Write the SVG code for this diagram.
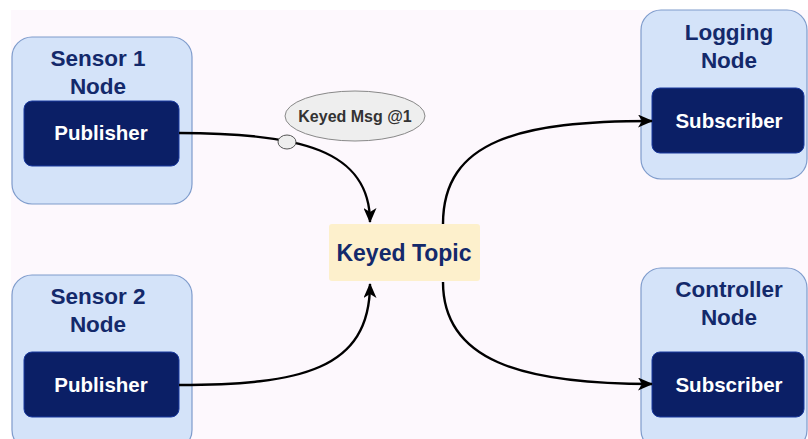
<svg xmlns="http://www.w3.org/2000/svg" width="808" height="439" viewBox="0 0 808 439">
  <defs>
    <marker id="arrow" viewBox="0 0 15 13" refX="14" refY="6.5" markerWidth="15" markerHeight="13" markerUnits="userSpaceOnUse" orient="auto">
      <path d="M0,0 L15,6.5 L0,13 L4,6.5 Z" fill="#000"/>
    </marker>
    <style>
      .outer { fill: #d4e3f9; stroke: #7f9ccc; stroke-width: 1.2; }
      .inner { fill: #0b1f66; stroke: #1a3aa0; stroke-width: 1; }
      .title { font-family: "Liberation Sans", Arial, sans-serif; font-weight: bold; font-size: 22.5px; fill: #13296b; text-anchor: middle; }
      .role { font-family: "Liberation Sans", Arial, sans-serif; font-weight: bold; font-size: 20.5px; fill: #ffffff; text-anchor: middle; }
      .edge { fill: none; stroke: #000; stroke-width: 2.4; marker-end: url(#arrow); }
    </style>
  </defs>

  <rect x="0" y="0" width="808" height="439" fill="#ffffff"/>
  <rect x="11" y="10" width="797" height="429" fill="#fdf8fd"/>

  <g id="msg-label">
    <ellipse cx="355" cy="116" rx="70" ry="25" fill="#eeeeee" stroke="#888" stroke-width="1"/>
    <text x="355" y="122" font-family="Liberation Sans, Arial, sans-serif" font-weight="bold" font-size="16" fill="#333" text-anchor="middle">Keyed Msg @1</text>
  </g>

  <g id="sensor1">
    <rect class="outer" x="12" y="37" width="180" height="167" rx="20"/>
    <text class="title" x="98" y="66">Sensor 1</text>
    <text class="title" x="98" y="94">Node</text>
    <rect class="inner" x="24" y="101" width="155" height="65" rx="8"/>
    <text class="role" x="101" y="140">Publisher</text>
  </g>

  <g id="sensor2">
    <rect class="outer" x="12" y="275" width="180" height="175" rx="20"/>
    <text class="title" x="98" y="304">Sensor 2</text>
    <text class="title" x="98" y="332">Node</text>
    <rect class="inner" x="24" y="352" width="155" height="65" rx="8"/>
    <text class="role" x="101" y="392">Publisher</text>
  </g>

  <g id="topic">
    <rect x="329" y="224" width="151" height="57" rx="3" fill="#fdf0cc"/>
    <text x="404" y="261" font-family="Liberation Sans, Arial, sans-serif" font-weight="bold" font-size="23" fill="#13296b" text-anchor="middle">Keyed Topic</text>
  </g>

  <g id="logging">
    <rect class="outer" x="641" y="10" width="166" height="169" rx="20"/>
    <text class="title" x="729" y="40">Logging</text>
    <text class="title" x="729" y="68">Node</text>
    <rect class="inner" x="652" y="88" width="152" height="65" rx="8"/>
    <text class="role" x="729" y="128">Subscriber</text>
  </g>

  <g id="controller">
    <rect class="outer" x="641" y="268" width="166" height="182" rx="20"/>
    <text class="title" x="729" y="297">Controller</text>
    <text class="title" x="729" y="325">Node</text>
    <rect class="inner" x="652" y="352" width="152" height="65" rx="8"/>
    <text class="role" x="729" y="392">Subscriber</text>
  </g>

  <!-- connectors, drawn over the node frames -->
  <g id="connectors">
    <path class="edge" d="M179,133 C300,133 370,150 370,222"/>
    <path class="edge" d="M179,385 C300,385 370,370 370,284"/>
    <path class="edge" d="M443,224 C443,140 520,121 652,121"/>
    <path class="edge" d="M443,282 C443,360 520,384 652,384"/>
    <ellipse cx="287" cy="142" rx="9" ry="7" fill="#eeeeee" stroke="#555" stroke-width="1"/>
  </g>
</svg>
